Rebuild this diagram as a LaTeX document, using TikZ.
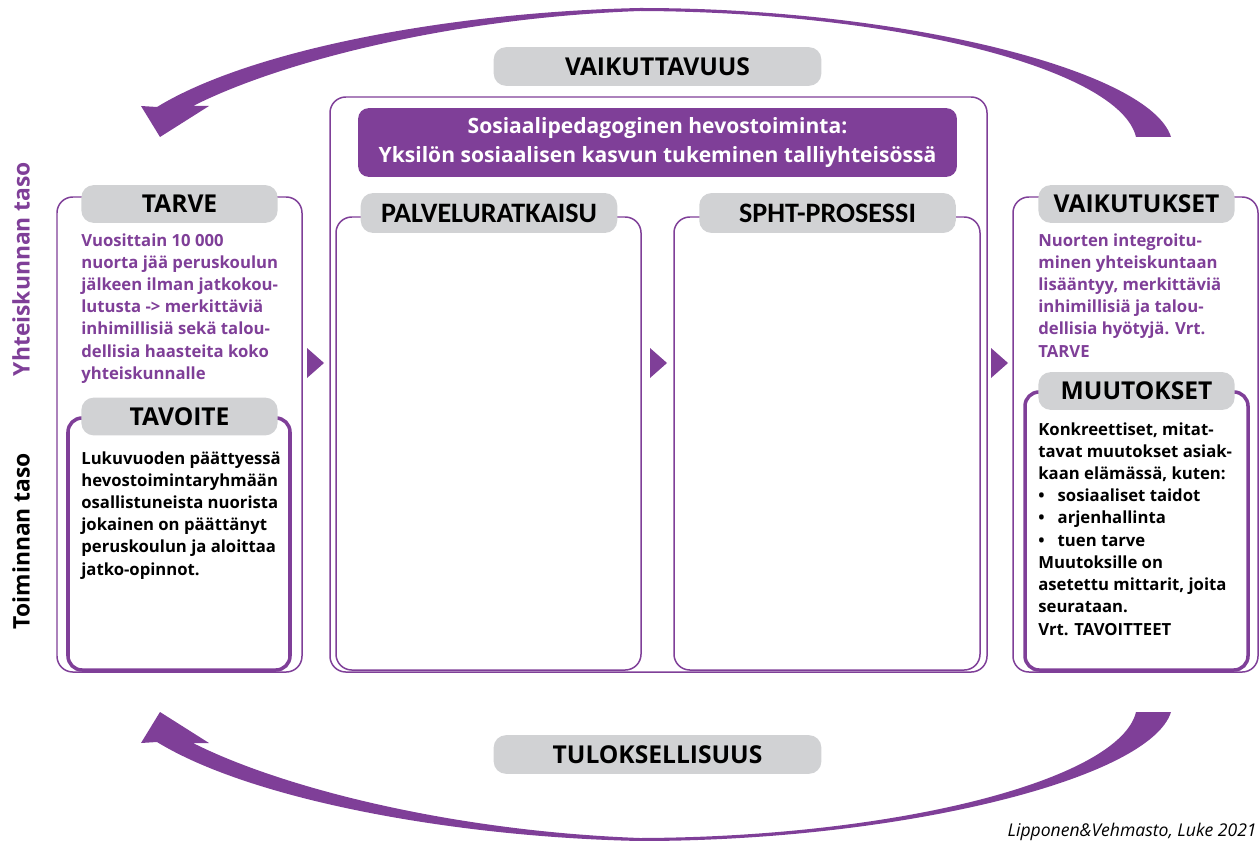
\documentclass[tikz,border=0pt]{standalone}
\usepackage{fontspec}
\setmainfont{Open Sans}
\newfontfamily\condfont{Carlito}
\usetikzlibrary{fit}

\definecolor{lila}{HTML}{7F3F98}
\definecolor{tabgray}{HTML}{D1D2D4}

\tikzset{
  cyclearrow/.pic={
    \fill[lila] (1171,137) .. controls (1150,70) and (900,8) .. (640,8)
      .. controls (450,12) and (250,50) .. (157,107) -- (141,106) -- (160,137)
      -- (209,106) -- (193,106) .. controls (280,62) and (450,18) .. (640,11)
      .. controls (900,12) and (1120,70) .. (1136,137) -- cycle;
  }
}

\begin{document}
\begin{tikzpicture}[x=0.02cm,y=-0.02cm,
    thinbox/.style={draw=lila,line width=0.85pt,rounded corners=9pt,inner sep=0pt},
    thickbox/.style={draw=lila,line width=2pt,rounded corners=8pt,inner sep=0pt},
    tabbox/.style={fill=tabgray,rounded corners=7pt,inner sep=0pt,
                   minimum width=111.7pt,minimum height=21.5pt,
                   font=\fontsize{14}{16}\selectfont\bfseries},
    widetab/.style={tabbox,minimum width=186.5pt,minimum height=22pt},
    condtab/.style={tabbox,minimum width=146pt,minimum height=22.7pt,
                    font=\condfont\fontsize{16}{18}\selectfont\bfseries},
    bodytext/.style={anchor=north west,inner sep=0pt,align=left,
                     font=\fontsize{9.5}{12.65}\selectfont\bfseries},
    sidelabel/.style={rotate=90,font=\fontsize{13}{15}\selectfont\bfseries}]

\useasboundingbox (0,0) rectangle (1260,841);

% kierto-nuolet
\pic at (0,0) {cyclearrow};
\pic[yscale=-1] at (0,849) {cyclearrow};

% tasot
\node[sidelabel,text=lila] (yhtaso) at (21,269) {Yhteiskunnan taso};
\node[sidelabel] (toimtaso) at (21,541) {Toiminnan taso};

% vasen: tarve ja tavoite
\node[thinbox,fit={(57,197) (302,672)}] (tarvebox) {};
\node[thickbox,fit={(68,418) (290,670)}] (tavoitebox) {};
\node[tabbox] (tarve) at (179.5,204) {TARVE};
\node[tabbox] (tavoite) at (179.5,416.5) {TAVOITE};
\node[bodytext,text=lila] (tarvetxt) at (81,233) {Vuosittain 10 000\\nuorta jää peruskoulun\\jälkeen ilman jatkokou-\\lutusta -> merkittäviä\\inhimillisiä sekä talou-\\dellisia haasteita koko\\yhteiskunnalle};
\node[bodytext] (tavoitetxt) at (81,451) {Lukuvuoden päättyessä\\hevostoimintaryhmään\\osallistuneista nuorista\\jokainen on päättänyt\\peruskoulun ja aloittaa\\jatko-opinnot.};

% keskiosa
\node[widetab] (vaikuttavuus) at (657.5,66.5) {VAIKUTTAVUUS};
\node[thinbox,fit={(330,97) (987,672)}] (toimintabox) {};
\node[fill=lila,rounded corners=6pt,inner sep=0pt,minimum width=340.8pt,minimum height=39.1pt,
      text=white,align=center,font=\fontsize{12}{16.4}\selectfont\bfseries] (otsikko)
      at (657.5,142.5) {Sosiaalipedagoginen hevostoiminta:\\Yksilön sosiaalisen kasvun tukeminen talliyhteisössä};
\node[thinbox,fit={(336,217) (641,670)}] (palvelubox) {};
\node[condtab] (palvelu) at (489,213) {PALVELURATKAISU};
\node[thinbox,fit={(674,217) (980,670)}] (prosessibox) {};
\node[condtab] (prosessi) at (827.5,213) {SPHT-PROSESSI};

% oikea: vaikutukset ja muutokset
\node[thinbox,fit={(1013,197) (1258,672)}] (vaikbox) {};
\node[thickbox,fit={(1025,392) (1248,670)}] (muutbox) {};
\node[tabbox] (vaikutukset) at (1136.5,204) {VAIKUTUKSET};
\node[tabbox] (muutokset) at (1136.5,391) {MUUTOKSET};
\node[bodytext,text=lila] (vaiktxt) at (1038,233) {Nuorten integroitu-\\minen yhteiskuntaan\\lisääntyy, merkittäviä\\inhimillisiä ja talou-\\dellisia hyötyjä. Vrt.\\TARVE};
\node[bodytext] (muuttxt) at (1038,422) {Konkreettiset, mitat-\\tavat muutokset asiak-\\kaan elämässä, kuten:\\\makebox[11pt][l]{•}sosiaaliset taidot\\\makebox[11pt][l]{•}arjenhallinta\\\makebox[11pt][l]{•}tuen tarve\\Muutoksille on\\asetettu mittarit, joita\\seurataan.\\Vrt. TAVOITTEET};

% kolmiot
\foreach \tx in {307,650,991}
  \fill[lila] (\tx,348) -- (\tx+17,363) -- (\tx,378) -- cycle;

\node[widetab] (tuloksellisuus) at (657.5,754.5) {TULOKSELLISUUS};

\node[anchor=base east,inner sep=0pt,font=\fontsize{10}{12}\selectfont\itshape] (lahde)
  at (1257,836) {Lipponen\&Vehmasto, Luke 2021};

\end{tikzpicture}
\end{document}
